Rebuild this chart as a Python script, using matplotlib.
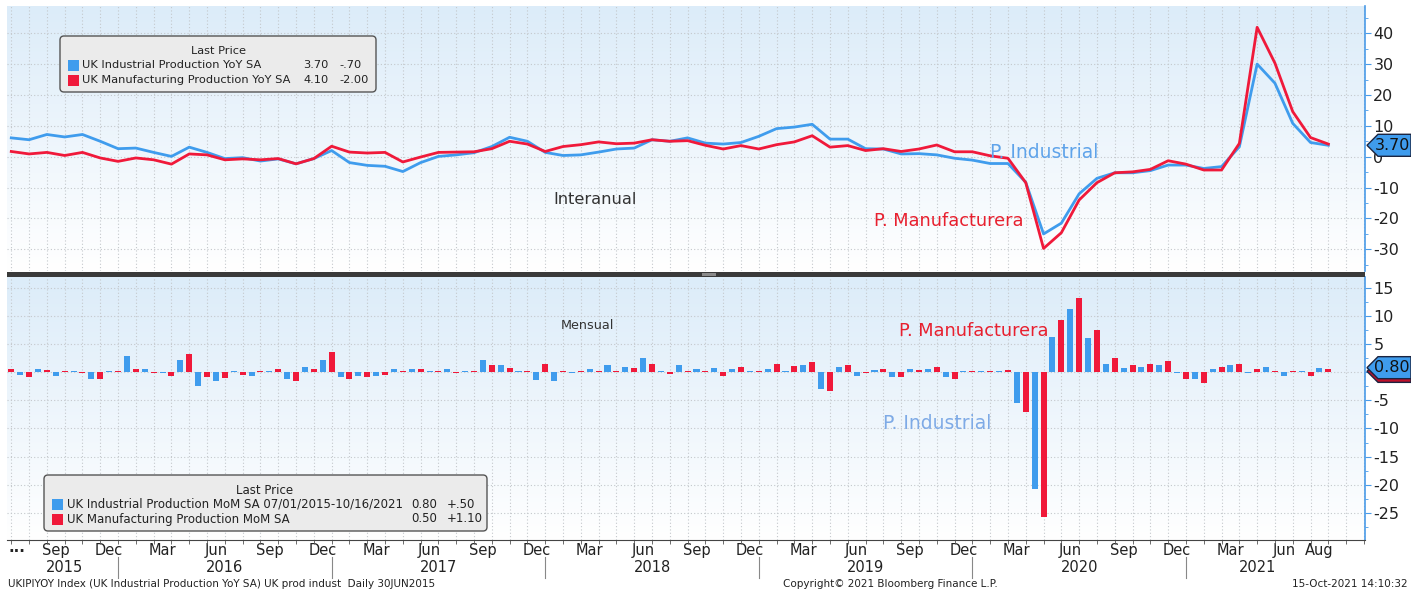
import matplotlib

matplotlib.use("Agg")
import matplotlib.pyplot as plt
import numpy as np
import pandas as pd
from matplotlib.colors import LinearSegmentedColormap
from matplotlib.patches import FancyBboxPatch, Polygon, Rectangle
from matplotlib.transforms import IdentityTransform, blended_transform_factory

plt.rcParams["font.family"] = ["DejaVu Sans"]
plt.rcParams["axes.unicode_minus"] = False

W, H = 1411, 594

# monthly observations Jun-2015 .. Aug-2021, plotted at month end
months = pd.period_range("2015-06", "2021-08", freq="M")

ip_yoy = [6.1, 5.5, 7.2, 6.4, 7.2, 5.0, 2.6, 2.8, 1.4, 0.1,
          3.1, 1.4, -0.6, -0.3, -1.4, -0.7, -2.3, -0.6, 2.0, -1.9,
          -2.8, -3.1, -4.8, -1.9, 0.1, 0.6, 1.3, 3.3, 6.3, 5.0,
          1.4, 0.4, 0.6, 1.5, 2.5, 2.8, 5.5, 5.0, 6.1, 4.4,
          4.1, 4.6, 6.6, 9.1, 9.6, 10.5, 5.7, 5.7, 2.6, 2.5,
          0.9, 1.0, 0.6, -0.5, -1.1, -2.2, -2.2, -8.3, -25.0, -21.5,
          -12.0, -7.0, -5.2, -5.2, -4.5, -2.7, -2.7, -3.8, -3.2, 3.2,
          30.0, 23.8, 10.8, 4.6, 3.7]
mfg_yoy = [1.7, 0.9, 1.4, 0.4, 1.4, -0.4, -1.5, -0.4, -1.0, -2.4,
           0.9, 0.6, -1.0, -0.7, -1.0, -0.6, -2.3, -0.6, 3.4, 1.5,
           1.2, 1.4, -1.7, -0.1, 1.4, 1.5, 1.6, 2.6, 5.0, 4.1,
           1.7, 3.3, 3.9, 4.8, 4.2, 4.4, 5.5, 5.0, 5.2, 3.7,
           2.5, 3.6, 2.5, 3.9, 4.8, 6.8, 3.1, 3.6, 2.0, 2.6,
           1.7, 2.5, 3.8, 1.6, 1.6, 0.3, -0.5, -8.4, -29.7, -24.6,
           -14.0, -8.4, -5.2, -4.9, -4.1, -1.3, -2.4, -4.3, -4.3, 4.3,
           41.9, 30.3, 14.6, 6.2, 4.1]
ip_mom = [0.2, -0.5, 0.5, -0.65, 0.2, -1.2, 0.2, 2.8, 0.5, -0.2,
          2.1, -2.4, -1.6, 0.2, -0.65, 0.2, -1.2, 0.9, 2.2, -0.9,
          -0.6, -0.6, 0.5, 0.6, 0.2, 0.5, 0.2, 2.1, 1.3, 0.2,
          -1.4, -1.6, -0.2, 0.5, 1.3, 0.9, 2.5, 0.2, 1.2, 0.5,
          0.8, 0.5, 0.2, 0.6, 0.2, 1.2, -3.0, 0.9, -0.65, 0.35,
          -0.9, 0.6, 0.6, -0.9, 0.2, 0.2, 0.2, -5.5, -20.7, 6.3,
          11.2, 6.0, 1.5, 0.7, 0.9, 1.2, -0.2, -1.3, 0.6, 1.3,
          -0.2, 0.9, -0.6, 0.2, 0.8]
mfg_mom = [0.6, -0.9, 0.4, 0.2, -0.2, -1.2, 0.2, 0.5, -0.2, -0.6,
           3.3, -0.9, -1.0, -0.5, 0.2, 0.6, -1.65, 0.6, 3.6, -1.3,
           -0.9, -0.5, 0.2, 0.6, 0.2, -0.2, 0.2, 1.3, 0.7, 0.2,
           1.5, 0.2, 0.2, 0.2, 0.2, 0.8, 1.5, -0.35, 0.2, 0.2,
           -0.65, 0.9, 0.2, 1.4, 1.1, 1.8, -3.4, 1.3, -0.2, 0.5,
           -0.9, 0.4, 0.9, -1.2, 0.2, 0.2, 0.4, -7.0, -25.7, 9.2,
           13.2, 7.5, 2.5, 1.3, 1.5, 1.9, -1.2, -2.0, 0.9, 1.5,
           0.6, 0.2, 0.2, -0.6, 0.5]

tick_months = list(pd.period_range("2015-09", "2021-06", freq="3M")) + [pd.Period("2021-08", "M")]
years = [2015, 2016, 2017, 2018, 2019, 2020, 2021]

BLUE = "#3f9ced"
RED = "#f0193a"
GRID = "#c4c8cc"

t = np.arange(len(months))  # month-end position of each observation


def k_of(p):
    return p.ordinal - months[0].ordinal


def px(x, y):
    """image pixel (origin top-left) -> display coords"""
    return x, H - y


fig = plt.figure(figsize=(W / 100, H / 100), dpi=100)
fig.patch.set_facecolor("white")

x0, x1 = 7, 1365
ax1 = fig.add_axes([x0 / W, 1 - 271 / H, (x1 - x0) / W, (271 - 6) / H])
ax2 = fig.add_axes([x0 / W, 1 - 540 / H, (x1 - x0) / W, (540 - 277) / H])

cmap = LinearSegmentedColormap.from_list("bg", ["#ffffff", "#dcecf9"])
grad = np.linspace(1, 0, 256).reshape(-1, 1)

xlim = (-0.24, 76.06)
for ax in (ax1, ax2):
    ax.imshow(grad, cmap=cmap, aspect="auto", extent=[0, 1, 0, 1],
              transform=ax.transAxes, zorder=0, vmin=0, vmax=1)
    ax.set_xlim(*xlim)
    ax.set_xticks(np.arange(0, 77), minor=True)
    ax.grid(True, which="minor", axis="x", color=GRID, linestyle=(0, (1, 2)), linewidth=0.8, zorder=1)
    ax.grid(True, which="major", axis="y", color=GRID, linestyle=(0, (1, 2)), linewidth=0.8, zorder=1)
    ax.yaxis.tick_right()
    for s in ("top", "left", "bottom"):
        ax.spines[s].set_visible(False)
    ax.spines["right"].set_color("#4a9be8")
    ax.spines["right"].set_linewidth(1.2)
    ax.tick_params(axis="y", which="major", direction="out", length=4, color="#4a9be8",
                   labelsize=11.5, labelcolor="#222222", pad=2)
    ax.tick_params(axis="y", which="minor", direction="out", length=2, color="#4a9be8")

# --- top panel: YoY lines
ax1.plot(t, ip_yoy, color=BLUE, linewidth=2.0, zorder=3, solid_joinstyle="round")
ax1.plot(t, mfg_yoy, color=RED, linewidth=2.0, zorder=4, solid_joinstyle="round")
ax1.set_ylim(-37.0, 48.8)
ax1.set_yticks(np.arange(-30, 41, 10))
ax1.set_yticks(np.arange(-35, 46, 10), minor=True)
ax1.yaxis.set_major_formatter(plt.FuncFormatter(lambda v, _: f"{v:.0f}"))
ax1.set_xticks([])
ax1.tick_params(axis="x", which="both", length=0, labelbottom=False)

ax1.text(32.8, -13.7, "Interanual", fontsize=11.7, color="#333333", ha="center", va="center", zorder=5)
ax1.text(55.0, 1.5, "P. Industrial", fontsize=13.5, color="#5fa3ea", ha="left", va="center", zorder=5)
ax1.text(48.5, -20.8, "P. Manufacturera", fontsize=12.8, color="#e8202f", ha="left", va="center", zorder=5)

# --- bottom panel: MoM bars
ax2.bar(t - 0.5, ip_mom, width=0.34, color=BLUE, zorder=3)
ax2.bar(t, mfg_mom, width=0.34, color=RED, zorder=3)
ax2.set_ylim(-29.8, 16.9)
ax2.set_yticks(np.arange(-25, 16, 5))
ax2.set_yticks(np.arange(-27.5, 16, 5), minor=True)
# the 0 label sits under the last-value tag
ax2.yaxis.set_major_formatter(plt.FuncFormatter(lambda v, _: "" if abs(v) < 1e-9 else f"{v:.0f}"))
ax2.spines["bottom"].set_visible(True)
ax2.spines["bottom"].set_color("#444444")

pos = [k_of(p) - 0.5 for p in tick_months]
ax2.set_xticks(pos, [p.strftime("%b") for p in tick_months])
ax2.tick_params(axis="x", which="major", length=0, labelsize=10.5, labelcolor="#222222", pad=2.5)
ax2.tick_params(axis="x", which="minor", length=3, color="#555555", direction="out")

ax2.text(32.4, 8.2, "Mensual", fontsize=9.2, color="#333333", ha="center", va="center", zorder=5)
ax2.text(49.9, 7.3, "P. Manufacturera", fontsize=12.8, color="#e8202f", ha="left", va="center", zorder=5)
ax2.text(49.0, -9.05, "P. Industrial", fontsize=13.5, color="#7eaae6", ha="left", va="center", zorder=5)

# year labels and separators
bt = blended_transform_factory(ax2.transData, fig.transFigure)
last = len(months) - 1
for y in years:
    start = max(k_of(pd.Period(f"{y}-01", "M")) - 1, 0)
    end = min(k_of(pd.Period(f"{y}-12", "M")), last)
    ax2.text((start + end) / 2, 1 - 567 / H, str(y), transform=bt, fontsize=10.5,
             color="#222222", ha="center", va="center", clip_on=False)
    if start > 0:
        ax2.plot([start, start], [1 - 557 / H, 1 - 578 / H], transform=bt, color="#888888",
                 linewidth=0.8, clip_on=False)
ax2.text(0.3, 1 - 548 / H, "...", transform=bt, fontsize=10.5, color="#222222",
         ha="center", va="center", fontweight="bold", clip_on=False)

# separator between panels
fig.add_artist(Rectangle(px(x0, 277), x1 - x0, 5, transform=IdentityTransform(),
                         facecolor="#3a3a3a", edgecolor="none"))
fig.add_artist(Rectangle(px(702, 276), 14, 3, transform=IdentityTransform(),
                         facecolor="#8a8a8a", edgecolor="none"))


# last-value tags on the right axis
def tag(ax, value, face, y_shift=0):
    _, yd = ax.transData.transform((0, value))
    yd -= y_shift
    xs = x1 + 2
    pts = [(xs, yd), (xs + 11, yd + 11), (W, yd + 11), (W, yd - 11), (xs + 11, yd - 11)]
    fig.add_artist(Polygon(pts, closed=True, transform=IdentityTransform(),
                           facecolor=face, edgecolor="#1b2440", linewidth=1.0))
    return yd


yd = tag(ax1, ip_yoy[-1], BLUE)
fig.text((x1 + 27) / W, yd / H, f"{ip_yoy[-1]:.2f}", fontsize=11.5, color="#111111",
         ha="center", va="center")
tag(ax2, mfg_mom[-1], "#c0102a", y_shift=2)
yd = tag(ax2, ip_mom[-1], BLUE)
fig.text((x1 + 27) / W, yd / H, f"{ip_mom[-1]:.2f}", fontsize=11.5, color="#111111",
         ha="center", va="center")


# legends
def legend(box, title_xy, rows, sq_x, lab_x, val_x, chg_x, row_y, fs):
    bx0, by0, bx1, by1 = box
    fig.add_artist(FancyBboxPatch(px(bx0, by1), bx1 - bx0, by1 - by0,
                                  boxstyle="round,pad=0,rounding_size=4",
                                  transform=IdentityTransform(), facecolor="#ebebeb",
                                  edgecolor="#555555", linewidth=1.0))
    fig.text(title_xy[0] / W, 1 - title_xy[1] / H, "Last Price", fontsize=fs,
             color="#222222", ha="center", va="center")
    for (label, val, chg, color), ry in zip(rows, row_y):
        fig.add_artist(Rectangle(px(sq_x, ry + 5.5), 11, 11, transform=IdentityTransform(),
                                 facecolor=color, edgecolor="none"))
        fig.text(lab_x / W, 1 - ry / H, label, fontsize=fs, color="#222222", ha="left", va="center")
        fig.text(val_x / W, 1 - ry / H, val, fontsize=fs, color="#222222", ha="right", va="center")
        fig.text(chg_x / W, 1 - ry / H, chg, fontsize=fs, color="#222222", ha="left", va="center")


legend((60, 36, 376, 92), (218, 51),
       [("UK Industrial Production YoY SA", "3.70", "-.70", BLUE),
        ("UK Manufacturing Production YoY SA", "4.10", "-2.00", RED)],
       68, 82, 329, 339, (65, 80), 8.2)
legend((44, 475, 487, 531), (265, 490),
       [("UK Industrial Production MoM SA 07/01/2015-10/16/2021", "0.80", "+.50", BLUE),
        ("UK Manufacturing Production MoM SA", "0.50", "+1.10", RED)],
       52, 67, 437, 447, (504, 519), 8.5)

# footer
fig.text(8 / W, 1 - 584 / H, "UKIPIYOY Index (UK Industrial Production YoY SA) UK prod indust  Daily 30JUN2015",
         fontsize=7.5, color="#222222", ha="left", va="center")
fig.text(890 / W, 1 - 584 / H, "Copyright\u00a9 2021 Bloomberg Finance L.P.", fontsize=7.5,
         color="#222222", ha="center", va="center")
fig.text(1408 / W, 1 - 584 / H, "15-Oct-2021 14:10:32", fontsize=7.5, color="#222222",
         ha="right", va="center")

fig.savefig("out.png", dpi=100)
